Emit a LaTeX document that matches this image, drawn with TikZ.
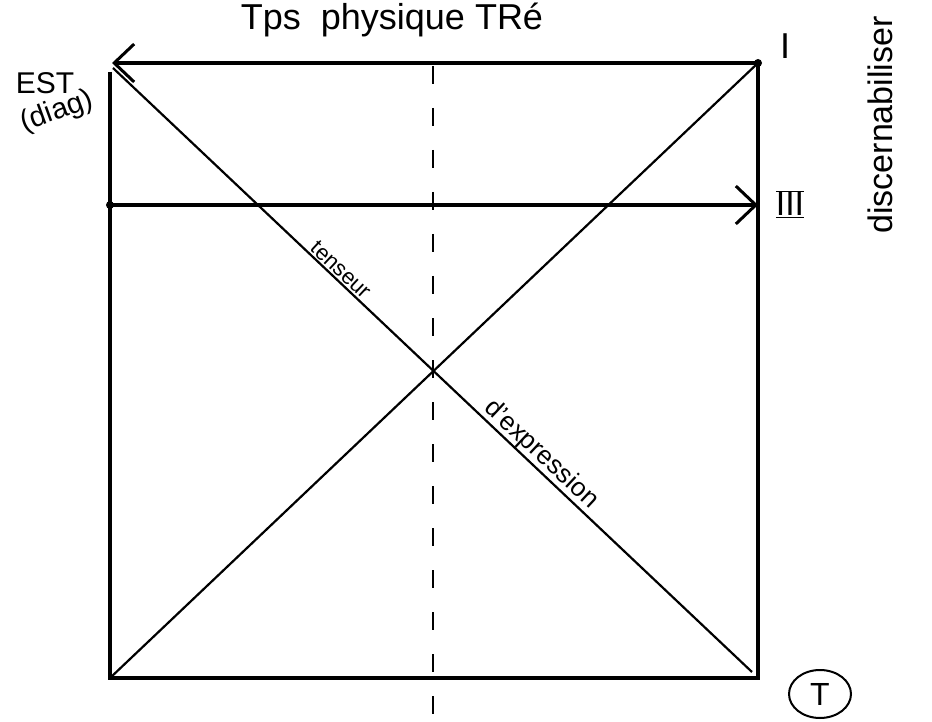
\documentclass[tikz,border=0pt]{standalone}
\usepackage{fontspec}
\setmainfont{Liberation Sans}
\usetikzlibrary{arrows.meta,positioning,calc,shapes.geometric}

\begin{document}
\begin{tikzpicture}[x=1pt, y=-1pt,
  edge/.style={line width=3.4pt},
  diag/.style={line width=2.2pt},
  lbl/.style={font=\fontsize{30}{32}\selectfont, inner sep=1pt},
  >={Straight Barb[length=20pt, width=38pt, line width=3pt]}]
  \useasboundingbox (0,0) rectangle (932,722);
  % corners of the square
  \coordinate (tl) at (112,63);
  \coordinate (tr) at (758,63);
  \coordinate (bl) at (110,678);
  \coordinate (br) at (758,678);
  \coordinate (ml) at (110,205);
  \coordinate (mr) at (758,205);
  \coordinate (dtop) at (433,66);
  \coordinate (dbot) at (433,722);
  % frame
  \draw[edge] (110,72) -- (bl) -- (br) -- (tr);
  \draw[edge, ->] (tr) -- (tl);
  \draw[edge, ->] (ml) -- (mr);
  \fill (ml) circle (4pt);
  \fill (tr) circle (4pt);
  % diagonals
  \draw[diag] (113,68) -- (752,672);
  \draw[diag] (bl) -- (tr);
  % dashed axis
  \draw[line width=2.8pt, dash pattern=on 18pt off 24pt] (dtop) -- (dbot);
  % labels
  \node[lbl, font=\fontsize{36}{38}\selectfont] (tps) at (392,20) {Tps \ physique TRé};
  \node[lbl] (est) at (45,83) {EST};
  \node[lbl, rotate=20, font=\fontsize{29}{30}\selectfont] (dg) at (57,112) {(diag)};
  \node[lbl, font=\fontsize{36}{38}\selectfont] (one) at (785,46) {$\mathrm{I}$};
  \node[lbl, font=\fontsize{34}{36}\selectfont] (three) at (790,204) {$\underline{\overline{\mathrm{III}}}$};
  \node[lbl, rotate=90, font=\fontsize{34}{36}\selectfont] (disc) at (880,125) {discernabiliser};
  \node[lbl, rotate=-43, anchor=south, font=\fontsize{22}{24}\selectfont] (tens) at (335,276) {tenseur};
  \node[lbl, rotate=-43, anchor=south, font=\fontsize{26}{28}\selectfont] (expr) at (532,464) {d'expression};
  \node[lbl, draw, ellipse, line width=2pt, inner sep=0pt, minimum width=62pt,
        minimum height=48pt, font=\fontsize{32}{34}\selectfont] (T) at (820,694) {T};
\end{tikzpicture}
\end{document}
